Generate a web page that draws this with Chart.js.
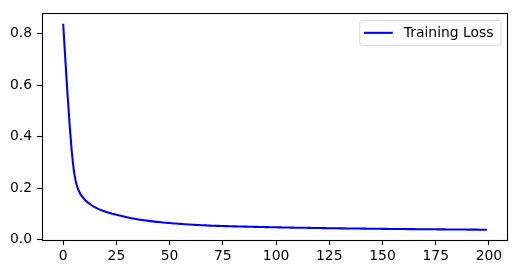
<!DOCTYPE html>
<html lang="en">
<head>
    <meta charset="UTF-8">
    <title>Training Loss</title>
    <script src="https://cdn.jsdelivr.net/npm/chart.js"></script>
    <style>
        html, body { margin: 0; padding: 0; background: #fff; }
        #wrap { width: 516px; height: 274px; }
    </style>
</head>
<body>
    <div id="wrap"><canvas id="lossChart" width="516" height="274"></canvas></div>
    <script>
        // loss per epoch
        const lossValues = [
            0.838, 0.700, 0.570, 0.450, 0.345, 0.268, 0.222, 0.196, 0.179, 0.167,
            0.1570, 0.1490, 0.1420, 0.1360, 0.1308, 0.1262, 0.1220, 0.1182, 0.1148, 0.1117,
            0.1088, 0.1061, 0.1036, 0.1012, 0.0990, 0.0969, 0.0949, 0.0930, 0.0912, 0.0895,
            0.0875, 0.0857, 0.0840, 0.0824, 0.0809, 0.0795, 0.0782, 0.0770, 0.0758, 0.0747,
            0.0736, 0.0726, 0.0716, 0.0706, 0.0697, 0.0688, 0.0680, 0.0672, 0.0664, 0.0657,
            0.0650, 0.0643, 0.0636, 0.0630, 0.0624, 0.0618, 0.0612, 0.0606, 0.0601, 0.0596,
            0.0591, 0.0586, 0.0581, 0.0576, 0.0572, 0.0568, 0.0564, 0.0560, 0.0556, 0.0552,
            0.0548, 0.0545, 0.0542, 0.0540, 0.0537, 0.0535, 0.0532, 0.0530, 0.0528, 0.0526,
            0.0523, 0.0521, 0.0519, 0.0517, 0.0515, 0.0513, 0.0511, 0.0509, 0.0507, 0.0505,
            0.0503, 0.0501, 0.0499, 0.0497, 0.0495, 0.0494, 0.0492, 0.0490, 0.0488, 0.0487,
            0.0485, 0.0483, 0.0482, 0.0480, 0.0479, 0.0477, 0.0476, 0.0474, 0.0473, 0.0471,
            0.0470, 0.0469, 0.0467, 0.0466, 0.0465, 0.0463, 0.0462, 0.0461, 0.0459, 0.0458,
            0.0457, 0.0456, 0.0454, 0.0453, 0.0452, 0.0451, 0.0450, 0.0449, 0.0447, 0.0446,
            0.0445, 0.0444, 0.0443, 0.0442, 0.0441, 0.0440, 0.0439, 0.0438, 0.0437, 0.0436,
            0.0435, 0.0434, 0.0433, 0.0432, 0.0431, 0.0430, 0.0429, 0.0428, 0.0428, 0.0427,
            0.0426, 0.0425, 0.0424, 0.0423, 0.0422, 0.0422, 0.0421, 0.0420, 0.0419, 0.0418,
            0.0418, 0.0417, 0.0416, 0.0415, 0.0415, 0.0414, 0.0413, 0.0412, 0.0412, 0.0411,
            0.0410, 0.0409, 0.0409, 0.0408, 0.0407, 0.0407, 0.0406, 0.0405, 0.0405, 0.0404,
            0.0403, 0.0403, 0.0402, 0.0401, 0.0401, 0.0400, 0.0399, 0.0399, 0.0398, 0.0398,
            0.0397, 0.0396, 0.0396, 0.0395, 0.0395, 0.0394, 0.0393, 0.0393, 0.0392, 0.0392
        ];
        const epochs = lossValues.map((_, i) => i);
        const xTicks = [0, 25, 50, 75, 100, 125, 150, 175, 200];
        const yTicks = [0.0, 0.2, 0.4, 0.6, 0.8];
        const seriesLabel = 'Training Loss';

        const FONT = { family: 'DejaVu Sans', size: 13.9 };

        // matplotlib style: full box round the axes + legend in upper right
        const frameAndLegend = {
            id: 'frameAndLegend',
            afterDraw(chart) {
                const { ctx, chartArea: a } = chart;
                ctx.save();
                ctx.strokeStyle = '#000';
                ctx.lineWidth = 1.1;
                ctx.strokeRect(Math.round(a.left) + 0.5, Math.round(a.top) + 0.5,
                    Math.round(a.right - a.left) - 1, Math.round(a.bottom - a.top));

                const ds = chart.data.datasets[0];
                ctx.font = `${FONT.size}px ${FONT.family}`;
                const textW = ctx.measureText(ds.label).width;
                const w = 4.5 + 29 + 11 + textW + 7;
                const h = 25;
                const x = a.right - 7.5 - w;
                const y = a.top + 6.5;
                ctx.beginPath();
                ctx.roundRect(x + 0.5, y + 0.5, w, h, 3);
                ctx.fillStyle = 'rgba(255,255,255,0.8)';
                ctx.fill();
                ctx.strokeStyle = '#d6d6d6';
                ctx.lineWidth = 1;
                ctx.stroke();

                ctx.beginPath();
                ctx.moveTo(x + 4.5, y + h / 2 + 0.5);
                ctx.lineTo(x + 33.5, y + h / 2 + 0.5);
                ctx.strokeStyle = ds.borderColor;
                ctx.lineWidth = ds.borderWidth;
                ctx.stroke();

                ctx.fillStyle = '#000';
                ctx.textBaseline = 'middle';
                ctx.textAlign = 'left';
                ctx.fillText(ds.label, x + 44.5, y + h / 2 + 1);
                ctx.restore();
            }
        };

        const ctx = document.getElementById('lossChart').getContext('2d');
        new Chart(ctx, {
            type: 'line',
            data: {
                datasets: [{
                    label: seriesLabel,
                    data: epochs.map((e, i) => ({ x: e, y: lossValues[i] })),
                    borderColor: '#0000ff',
                    borderWidth: 2.08,
                    pointRadius: 0,
                    tension: 0,
                    fill: false
                }]
            },
            options: {
                responsive: false,
                animation: false,
                layout: { padding: { top: 9, right: 8, left: 0, bottom: 0 } },
                plugins: { legend: { display: false }, tooltip: { enabled: false } },
                scales: {
                    x: {
                        type: 'linear',
                        min: -9.95,
                        max: 208.95,
                        afterBuildTicks: s => { s.ticks = xTicks.map(v => ({ value: v })); },
                        afterFit: s => { s.height = 34; },
                        grid: { drawOnChartArea: false, drawTicks: true, tickLength: 5, tickColor: '#000', tickWidth: 1.1 },
                        border: { display: false },
                        ticks: { color: '#000', font: FONT, padding: 3, maxRotation: 0 }
                    },
                    y: {
                        type: 'linear',
                        min: -0.0007,
                        max: 0.8786,
                        afterBuildTicks: s => { s.ticks = yTicks.map(v => ({ value: v })); },
                        afterFit: s => { s.width = 42; },
                        grid: { drawOnChartArea: false, drawTicks: true, tickLength: 5, tickColor: '#000', tickWidth: 1.1 },
                        border: { display: false },
                        ticks: { color: '#000', font: FONT, padding: 5, callback: v => v.toFixed(1) }
                    }
                }
            },
            plugins: [frameAndLegend]
        });
    </script>
</body>
</html>
